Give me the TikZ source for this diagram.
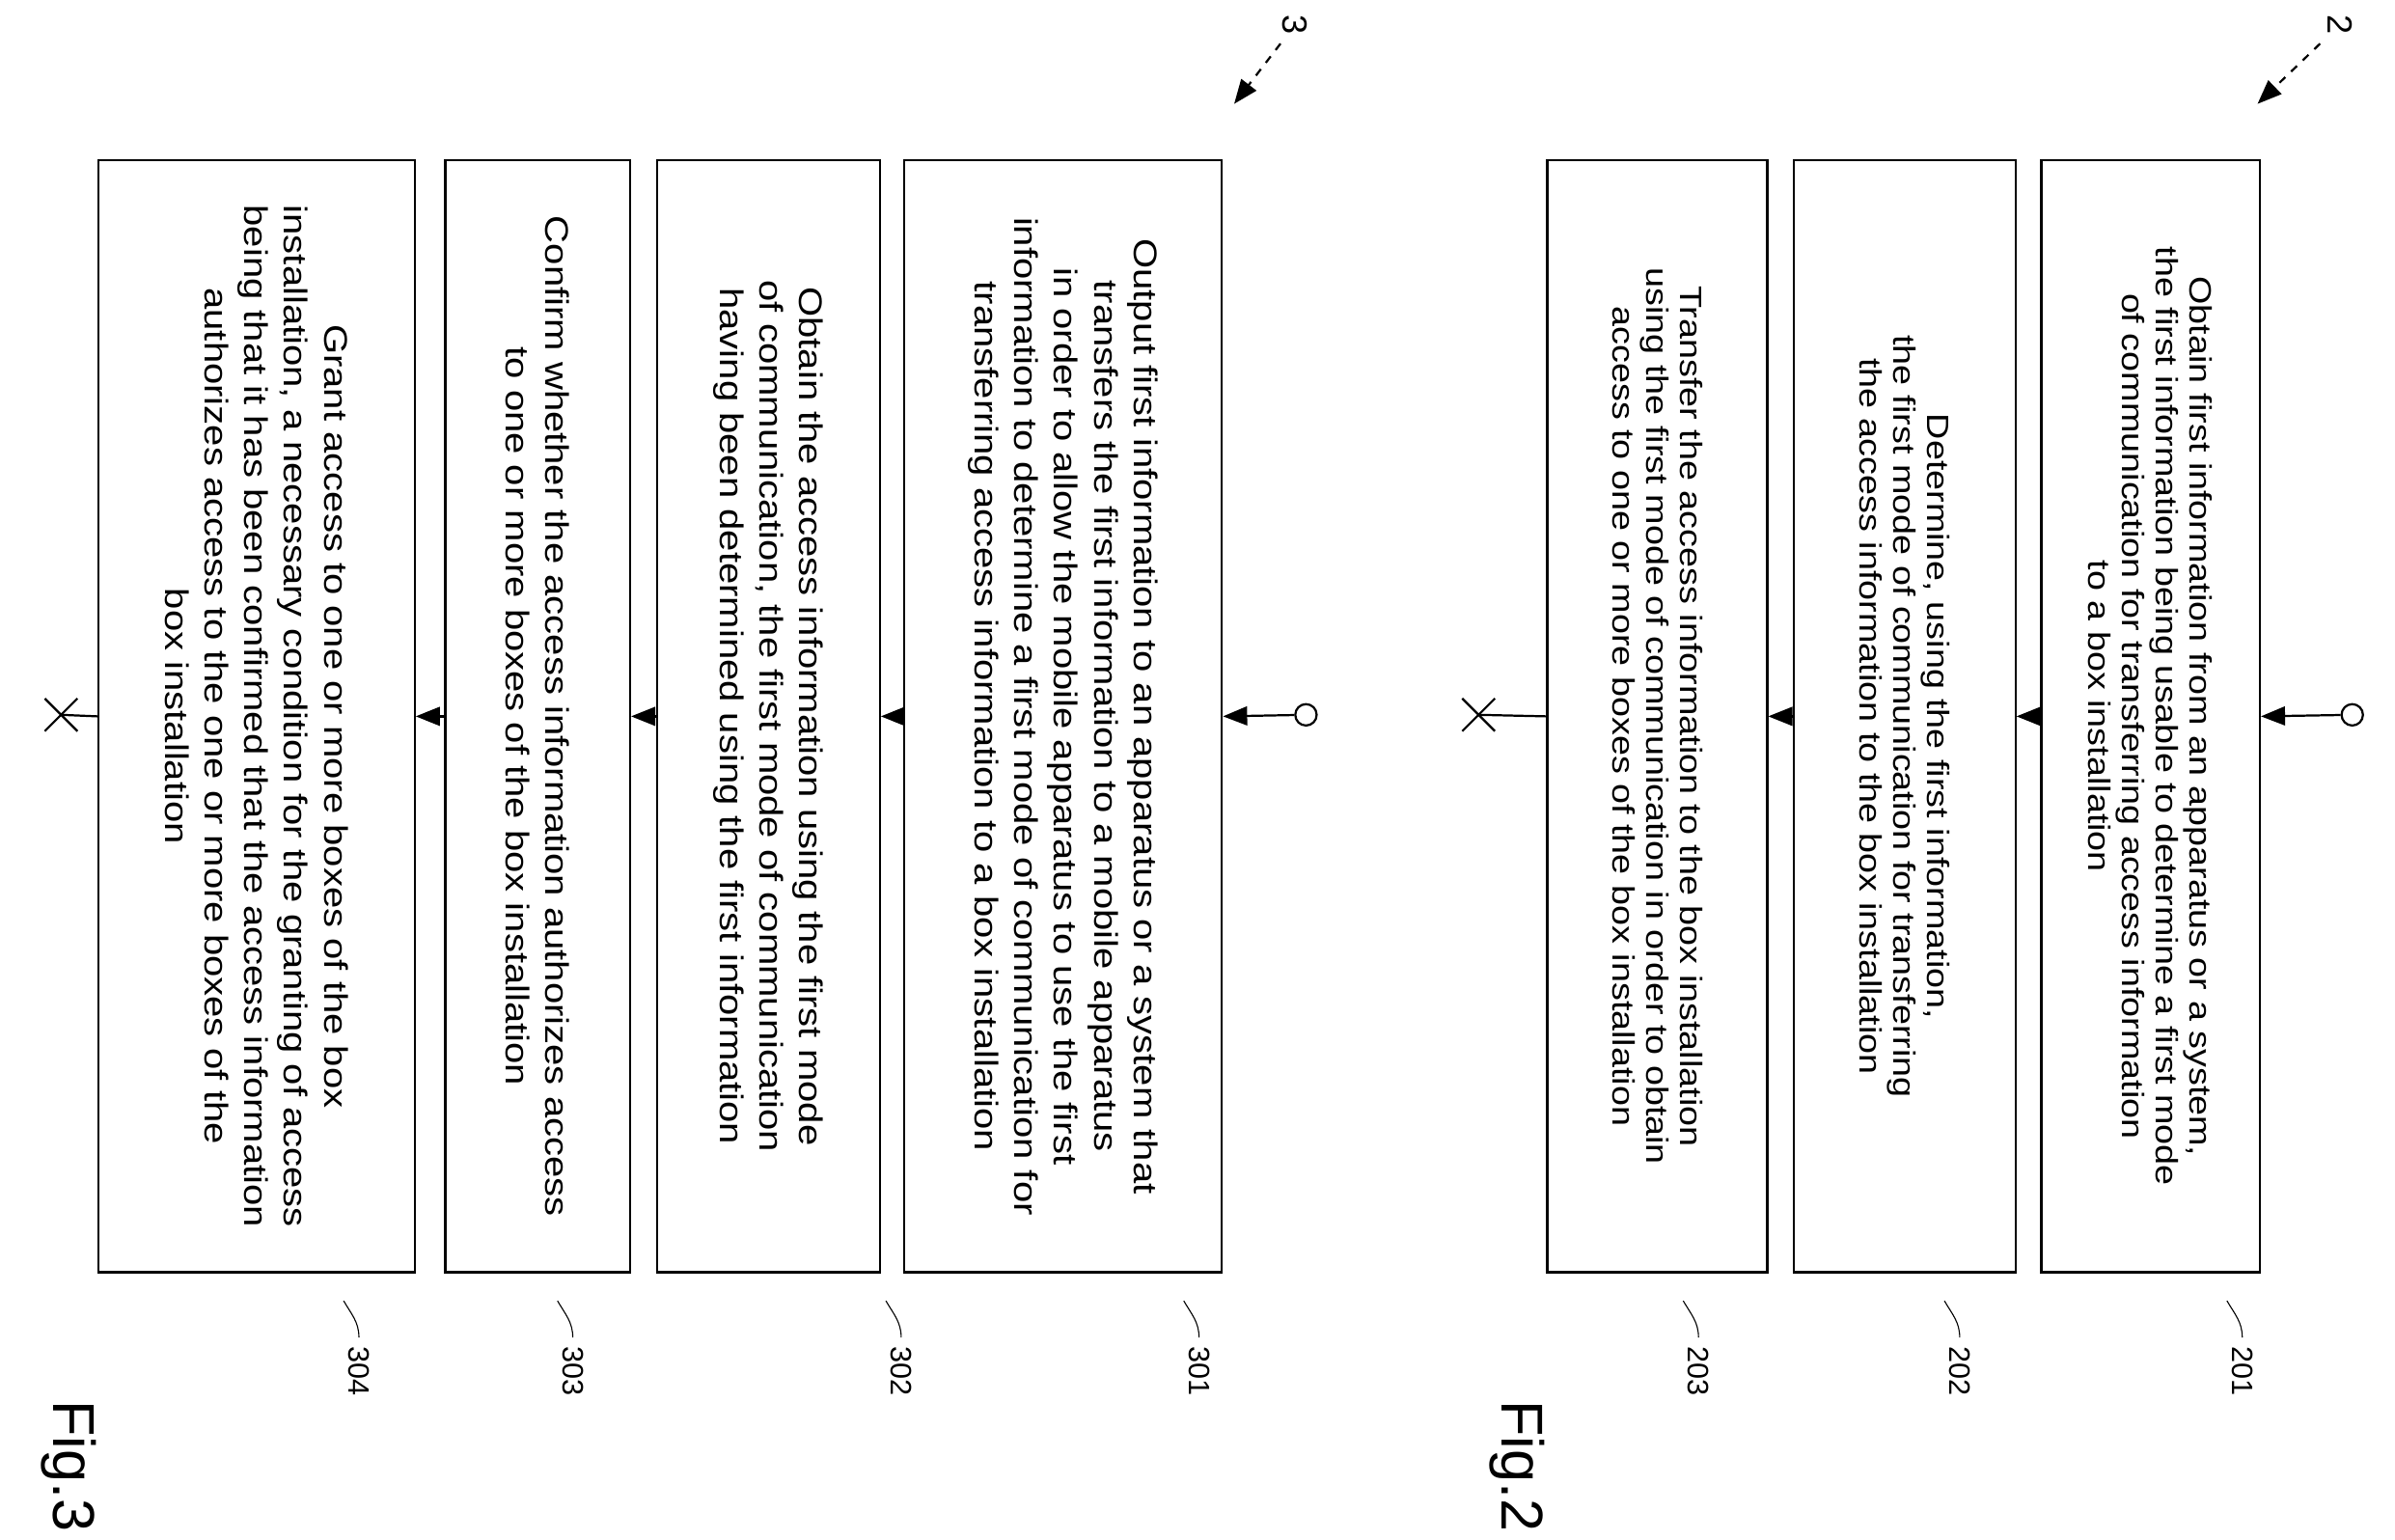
\documentclass[tikz,border=0pt]{standalone}
\usepackage{fontspec}
\setmainfont{Liberation Sans}
\newfontfamily\widesans[FakeStretch=1.18]{Liberation Sans}
\usetikzlibrary{arrows.meta,shapes.misc}
\tikzset{
  stepbox/.style={draw,thick,rotate=-90,minimum width=14.56cm,align=center,inner sep=2pt},
  flow/.style={thick,-{Triangle[length=9pt,width=7pt]}},
  refnum/.style={rotate=-90,font=\fontsize{11}{13}\selectfont},
  figlabel/.style={rotate=-90,font=\fontsize{22}{24}\selectfont},
}
\begin{document}
\begin{tikzpicture}[x=0.02cm,y=-0.02cm]
        \useasboundingbox (0,0) rectangle (1568,1008);

        % Fig. 2
        \node [stepbox,minimum height=2.86cm,font=\widesans\fontsize{11.5}{12.6}\selectfont] (b201) at (1408,469)
          {Obtain first information from an apparatus or a system,\\the first information being usable to determine a first mode\\of communication for transferring access information\\to a box installation};
        \node [stepbox,minimum height=2.9cm,font=\widesans\fontsize{11.5}{12.6}\selectfont] (b202) at (1247,469)
          {Determine, using the first information,\\the first mode of communication for transferring\\the access information to the box installation};
        \node [stepbox,minimum height=2.88cm,font=\widesans\fontsize{11.5}{12.6}\selectfont] (b203) at (1085,469)
          {Transfer the access information to the box installation\\using the first mode of communication in order to obtain\\access to one or more boxes of the box installation};

        \node [draw,thick,circle,inner sep=0pt,minimum size=0.28cm] (s2) at (1540,468) {};
        \node [draw,thick,cross out,inner sep=0pt,minimum size=0.4cm] (e2) at (968,468) {};

        \node [refnum] (l201) at (1468,898) {201};
        \node [refnum] (l202) at (1283,898) {202};
        \node [refnum] (l203) at (1112,898) {203};
        \node [figlabel] (fig2) at (993,960) {Fig.2};
        \node [refnum,font=\fontsize{13}{15}\selectfont] (n2) at (1532,16) {2};
        \coordinate (p2) at (1478,68);

        % Fig. 3
        \node [stepbox,minimum height=4.16cm,font=\widesans\fontsize{12.2}{14.8}\selectfont] (b301) at (696,469)
          {Output first information to an apparatus or a system that\\transfers the first information to a mobile apparatus\\in order to allow the mobile apparatus to use the first\\information to determine a first mode of communication for\\transferring access information to a box installation};
        \node [stepbox,minimum height=2.92cm,font=\widesans\fontsize{12.2}{14.8}\selectfont] (b302) at (503,469)
          {Obtain the access information using the first mode\\of communication, the first mode of communication\\having been determined using the first information};
        \node [stepbox,minimum height=2.42cm,font=\widesans\fontsize{12.2}{14.8}\selectfont] (b303) at (352,469)
          {Confirm whether the access information authorizes access\\to one or more boxes of the box installation};
        \node [stepbox,minimum height=4.14cm,font=\widesans\fontsize{12.2}{14.8}\selectfont] (b304) at (168,469)
          {Grant access to one or more boxes of the box\\installation, a necessary condition for the granting of access\\being that it has been confirmed that the access information\\authorizes access to the one or more boxes of the\\box installation};

        \node [draw,thick,circle,inner sep=0pt,minimum size=0.28cm] (s3) at (855,468) {};
        \node [draw,thick,cross out,inner sep=0pt,minimum size=0.4cm] (e3) at (40,468) {};

        \node [refnum] (l301) at (785,898) {301};
        \node [refnum] (l302) at (590,898) {302};
        \node [refnum] (l303) at (375,898) {303};
        \node [refnum] (l304) at (235,898) {304};
        \node [figlabel] (fig3) at (45,960) {Fig.3};
        \node [refnum,font=\fontsize{13}{15}\selectfont] (n3) at (848,16) {3};
        \coordinate (p3) at (808,68);

        % arrows
        \draw [flow] (s2) -- (b201.north);
        \draw [flow] (b201.south) -- (b202.north);
        \draw [flow] (b202.south) -- (b203.north);
        \draw [thick] (b203.south) -- (e2.center);

        \draw [flow] (s3) -- (b301.north);
        \draw [flow] (b301.south) -- (b302.north);
        \draw [flow] (b302.south) -- (b303.north);
        \draw [flow] (b303.south) -- (b304.north);
        \draw [thick] (b304.south) -- (e3.center);

        \draw [flow,dashed] (n2) -- (p2);
        \draw [flow,dashed] (n3) -- (p3);

        % leaders
        \foreach \l in {l201,l202,l203,l301,l302,l303,l304}
          \draw (\l.west) to[out=90,in=-60] ++(-10,-24);
\end{tikzpicture}
\end{document}
